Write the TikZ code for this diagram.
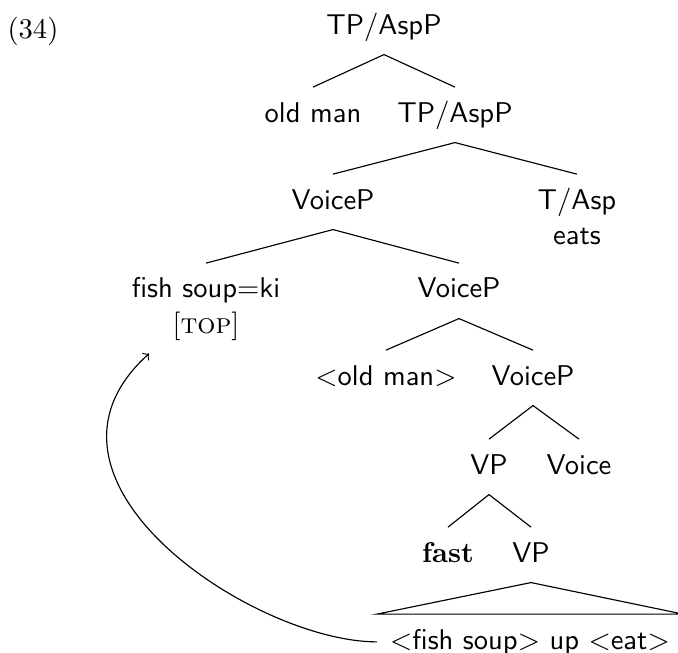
\documentclass[tikz,border=0pt]{standalone}
\usepackage{amsmath, amsfonts}
\usepackage{tikz}

\begin{document}
\begin{tikzpicture}[>=to,x=0.35pt,y=-0.35pt,
        lab/.style={font=\sffamily,anchor=base,inner xsep=4.5pt,inner ysep=0pt,text height=12pt,text depth=7pt}]
        \useasboundingbox (0,0) rectangle (678,653);
        \node[anchor=base] (ex) at (33,38) {(34)};

        \node[lab] (tp1) at (384,34) {TP/AspP};
        \node[lab] (om) at (313,122) {old man};
        \node[lab] (tp2) at (455,122) {TP/AspP};
        \node[lab] (vc1) at (333,209) {VoiceP};
        \node[lab] (tasp) at (577,209) {T/Asp};
        \node[lab] (eats) at (577,244) {eats};
        \node[lab] (fsk) at (206,298) {fish soup$=$ki};
        \node[lab,font=\rmfamily] (top) at (206,333) {[\textsc{top}]};
        \node[lab] (vc2) at (459,298) {VoiceP};
        \node[lab] (omt) at (386,385) {$<$old man$>$};
        \node[lab] (vc3) at (533,385) {VoiceP};
        \node[lab] (vp1) at (489,474) {VP};
        \node[lab] (voice) at (579,474) {Voice};
        \node[lab,font=\rmfamily\bfseries] (fast) at (448,562) {fast};
        \node[lab] (vp2) at (531,562) {VP};
        \node[lab] (flb) at (530,649) {$<$fish soup$>$ up $<$eat$>$};

        \foreach \a/\b in {tp1/om,tp1/tp2,tp2/vc1,tp2/tasp,vc1/fsk,vc1/vc2,vc2/omt,vc2/vc3,vc3/vp1,vc3/voice,vp1/fast,vp1/vp2}
        {
            \draw (\a.south)--(\b.north);
        }
        \draw (vp2.south)--(flb.north east)--(flb.north west)--cycle;    % roof over the lower VP

        \draw[->] (flb.west) to[out=180,in=222,out distance=43pt,in distance=66pt] ([xshift=-3.5pt]top.south west);
\end{tikzpicture}
\end{document}
